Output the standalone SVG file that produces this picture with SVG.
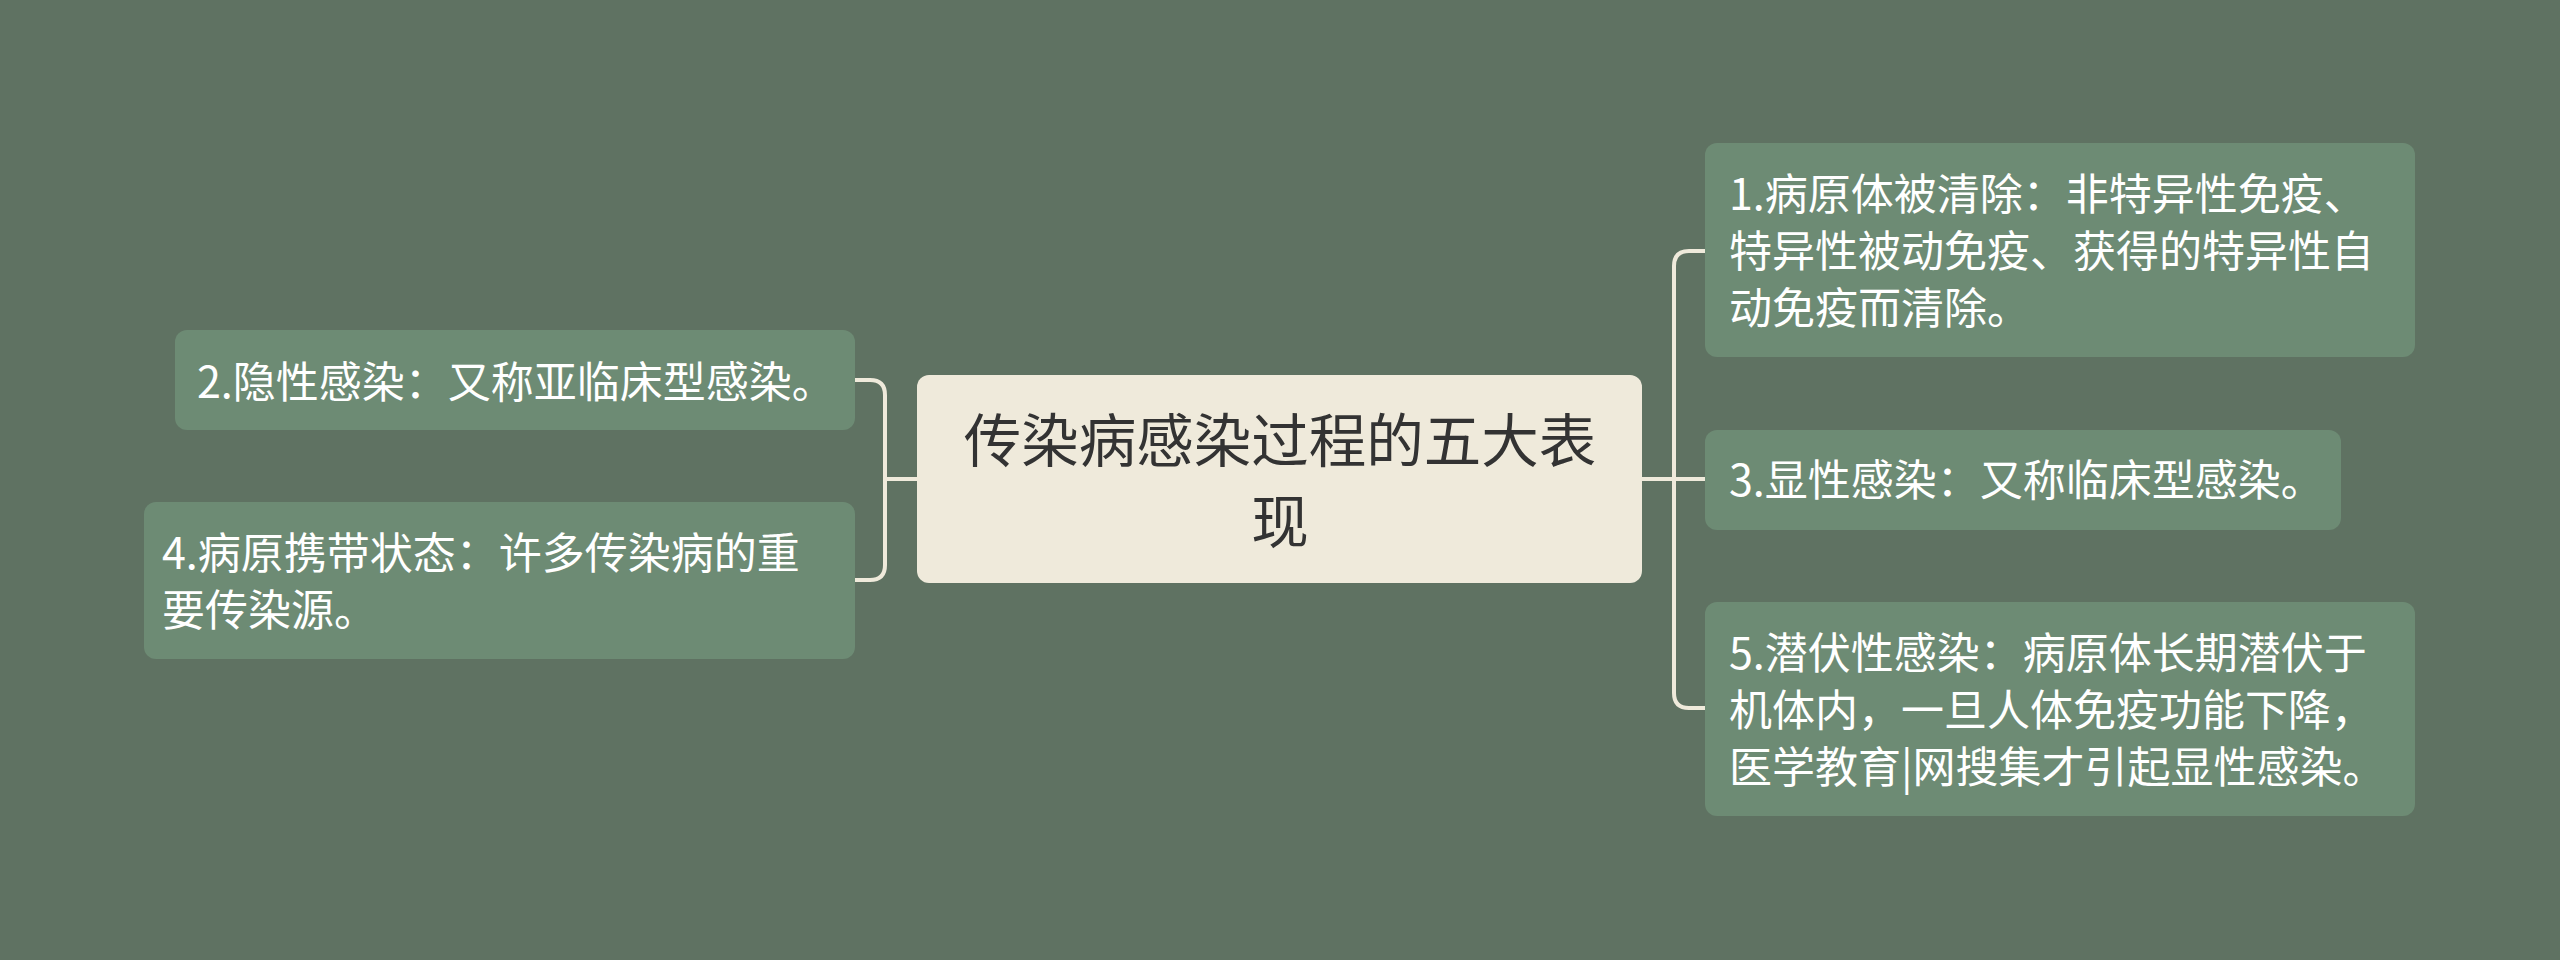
<svg xmlns="http://www.w3.org/2000/svg" width="2560" height="960" viewBox="0 0 2560 960">
  <style>
    .node rect { fill: #6d8b74; }
    .node text { fill: #ffffff; font-family: "Noto Sans CJK SC", "Noto Sans", sans-serif; font-size: 43px; }
    .root rect { fill: #efeadb; }
    .root text { fill: #333333; font-family: "Noto Sans CJK SC", "Noto Sans", sans-serif; font-size: 57.5px; text-anchor: middle; }
    .conn { fill: none; stroke: #efeadb; stroke-width: 4; }
  </style>
  <rect x="0" y="0" width="2560" height="960" fill="#5f7262"/>
  <g id="connectors">
    <path class="conn" d="M918,479 H885"/>
    <path class="conn" d="M855,380 H870 Q885,380 885,395 V565 Q885,580 870,580 H855"/>
    <path class="conn" d="M1642,479 H1706"/>
    <path class="conn" d="M1706,251 H1689 Q1674,251 1674,266 V693 Q1674,708 1689,708 H1706"/>
  </g>
  <g id="root" class="root">
    <rect x="917" y="375" width="725" height="208" rx="12"/>
    <text x="1280" y="462">传染病感染过程的五大表</text>
    <text x="1280" y="543">现</text>
  </g>
  <g id="node1" class="node">
    <rect x="1705" y="143" width="710" height="214" rx="12"/>
    <text x="1729" y="210">1.病原体被清除：非特异性免疫、</text>
    <text x="1729" y="267">特异性被动免疫、获得的特异性自</text>
    <text x="1729" y="324">动免疫而清除。</text>
  </g>
  <g id="node3" class="node">
    <rect x="1705" y="430" width="636" height="100" rx="12"/>
    <text x="1729" y="496">3.显性感染：又称临床型感染。</text>
  </g>
  <g id="node5" class="node">
    <rect x="1705" y="602" width="710" height="214" rx="12"/>
    <text x="1729" y="669">5.潜伏性感染：病原体长期潜伏于</text>
    <text x="1729" y="726">机体内，一旦人体免疫功能下降，</text>
    <text x="1729" y="783">医学教育|网搜集才引起显性感染。</text>
  </g>
  <g id="node2" class="node">
    <rect x="175" y="330" width="680" height="100" rx="12"/>
    <text x="197" y="398">2.隐性感染：又称亚临床型感染。</text>
  </g>
  <g id="node4" class="node">
    <rect x="144" y="502" width="711" height="157" rx="12"/>
    <text x="162" y="569">4.病原携带状态：许多传染病的重</text>
    <text x="162" y="626">要传染源。</text>
  </g>
</svg>
